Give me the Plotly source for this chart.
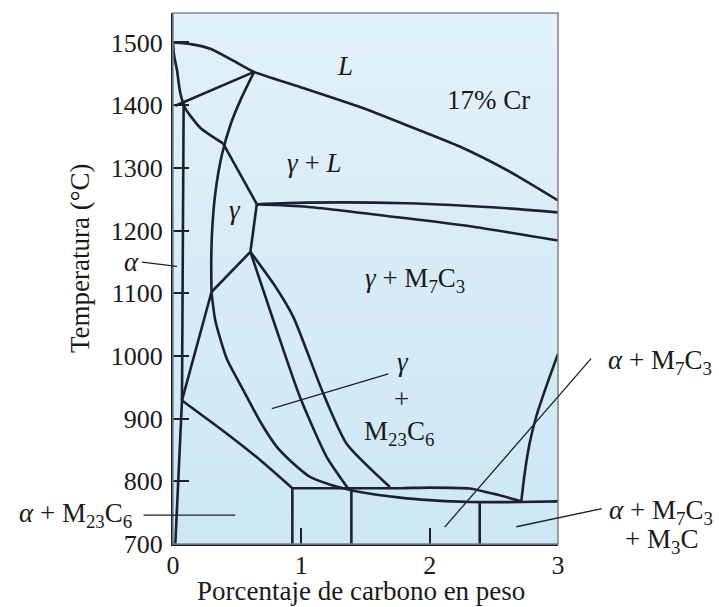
import plotly.graph_objects as go

# ---------------- data (wt% C, temperature in °C) ----------------
liquidus_x = [0.0, 0.15, 0.29, 0.47, 0.632, 0.99, 1.457, 1.846, 2.234, 2.623, 3.0]
liquidus_t = [1500, 1497, 1490, 1471, 1453, 1429, 1397, 1366, 1334, 1294, 1248]

delta_arc_x = [0.0, 0.008, 0.031, 0.057, 0.096, 0.212, 0.39]
delta_arc_t = [1500, 1480, 1456, 1419, 1395, 1364, 1339]

solidus_x = [0.39, 0.653]
solidus_t = [1339, 1242]

perit_x = [0.018, 0.632]
perit_t = [1399, 1453]

gamma_left_x = [0.632, 0.53, 0.45, 0.38, 0.33, 0.305, 0.298, 0.30]
gamma_left_t = [1453, 1410, 1370, 1320, 1260, 1200, 1150, 1102]

gamma_right_x = [0.653, 0.603, 0.30]
gamma_right_t = [1242, 1166, 1102]

peak_left_x = [0.30, 0.07]
peak_left_t = [1102, 929]

alpha_bound_x = [0.083, 0.07, 0.018]
alpha_bound_t = [1405, 929, 700]

eut_low_x = [0.07, 0.42, 0.679, 0.93]
eut_low_t = [929, 876, 834, 789]

curve_i_x = [0.30, 0.329, 0.42, 0.549, 0.68, 0.809, 0.94, 1.068, 1.22, 1.366, 1.457, 1.77, 2.0, 2.31, 2.714, 3.0]
curve_i_t = [1102, 1057, 995, 945, 895, 855, 828, 807, 795, 787, 783, 774, 770, 767, 767, 768]

mid_line_x = [0.603, 0.808, 0.99, 1.197, 1.366]
mid_line_t = [1166, 1041, 934, 839, 788]

right_line_x = [0.603, 0.80, 0.938, 1.171, 1.353, 1.69]
right_line_t = [1166, 1110, 1062, 940, 860, 791]

upper_h_x = [0.93, 1.37, 1.77, 2.0, 2.31, 2.5, 2.714]
upper_h_t = [789, 789, 789, 790, 788.5, 780, 768]

right_curve_x = [3.0, 2.908, 2.83, 2.778, 2.74, 2.714]
right_curve_t = [1003, 951, 903, 860, 812, 768]

plateau_up_x = [0.653, 1.04, 1.82, 2.6, 3.0]
plateau_up_t = [1242, 1244.5, 1243.5, 1235.5, 1229]

plateau_low_x = [0.653, 1.04, 1.82, 2.34, 3.0]
plateau_low_t = [1242, 1238, 1219.5, 1206, 1184]

vert_x = [0.93, 1.39, 2.39]
vert_top = [789, 786, 767]
vert_bottom = [700, 700, 700]

x_ticks = [0, 1, 2, 3]
y_ticks = [700, 800, 900, 1000, 1100, 1200, 1300, 1400, 1500]

X_RANGE = [0, 3]
Y_RANGE = [700, 1547]

# region labels inside the plot: (text, x, T)
region_labels = [
    ("<i>L</i>", 1.34, 1462),
    ("17% Cr", 2.457, 1408),
    ("<i>γ</i> + <i>L</i>", 1.10, 1307),
    ("<i>γ</i>", 0.484, 1233),
    ("<i>γ</i> + M<sub>7</sub>C<sub>3</sub>", 1.885, 1121),
    ("<i>γ</i>", 1.79, 990),
    ("+", 1.78, 932),
    ("M<sub>23</sub>C<sub>6</sub>", 1.76, 877),
]

# labels outside the plot area (text, x, T) in data units
outside_labels = [
    ("<i>α</i>", -0.327, 1150),
    ("<i>α</i> + M<sub>23</sub>C<sub>6</sub>", -0.76, 746),
    ("<i>α</i> + M<sub>7</sub>C<sub>3</sub>", 3.797, 991),
    ("<i>α</i> + M<sub>7</sub>C<sub>3</sub>", 3.80, 751),
    ("+ M<sub>3</sub>C", 3.81, 705),
]

# leader lines: (x_start, T_start, x_end, T_end)
leaders = [
    (-0.254, 1150, 0.031, 1143),
    (-0.241, 746, 0.485, 746),
    (1.69, 972, 0.77, 916),
    (3.268, 998, 2.117, 727),
    (3.354, 757, 2.675, 727.5),
]

LINE = "#1b2130"
TXT = "#1a1a1a"
FONT = "Liberation Serif"

fig = go.Figure()

# soft vertical background gradient of the diagram area
fig.add_trace(go.Heatmap(x=X_RANGE, y=Y_RANGE, z=[[0, 0], [1, 1]], zsmooth="best",
                         colorscale=[[0, "#cde7f5"], [1, "#e2f1f9"]],
                         showscale=False, hoverinfo="skip"))

curves = [
    (liquidus_x, liquidus_t), (delta_arc_x, delta_arc_t), (solidus_x, solidus_t),
    (perit_x, perit_t), (gamma_left_x, gamma_left_t), (gamma_right_x, gamma_right_t),
    (peak_left_x, peak_left_t), (alpha_bound_x, alpha_bound_t), (eut_low_x, eut_low_t),
    (curve_i_x, curve_i_t), (mid_line_x, mid_line_t), (right_line_x, right_line_t),
    (upper_h_x, upper_h_t), (right_curve_x, right_curve_t),
    (plateau_up_x, plateau_up_t), (plateau_low_x, plateau_low_t),
]
for cx, ct in curves:
    shape = "spline" if len(cx) > 3 else "linear"
    fig.add_trace(go.Scatter(x=cx, y=ct, mode="lines",
                             line=dict(color=LINE, width=2.6, shape=shape, smoothing=0.6),
                             hoverinfo="skip", showlegend=False))

for vx, vt, vb in zip(vert_x, vert_top, vert_bottom):
    fig.add_trace(go.Scatter(x=[vx, vx], y=[vt, vb], mode="lines",
                             line=dict(color=LINE, width=2.6),
                             hoverinfo="skip", showlegend=False))

for txt, lx, lt in region_labels:
    fig.add_annotation(x=lx, y=lt, xref="x", yref="y", text=txt, showarrow=False,
                       font=dict(family=FONT, size=27, color=TXT))

for txt, lx, lt in outside_labels:
    px = (lx - X_RANGE[0]) / (X_RANGE[1] - X_RANGE[0])
    py = (lt - Y_RANGE[0]) / (Y_RANGE[1] - Y_RANGE[0])
    fig.add_annotation(x=px, y=py, xref="paper", yref="paper", text=txt,
                       showarrow=False, xanchor="center", yanchor="middle",
                       font=dict(family=FONT, size=27, color=TXT))

for x0, t0, x1, t1 in leaders:
    fig.add_annotation(x=x1, y=t1, ax=x0, ay=t0, xref="x", yref="y",
                       axref="x", ayref="y", text="", showarrow=True,
                       arrowhead=0, arrowwidth=1.3, arrowcolor=LINE, standoff=0,
                       startstandoff=0)

# axis titles
fig.add_annotation(x=0.488, y=-0.088, xref="paper", yref="paper",
                   xanchor="center", yanchor="middle",
                   text="Porcentaje de carbono en peso", showarrow=False,
                   font=dict(family=FONT, size=27, color=TXT))
fig.add_annotation(x=-0.2416, y=0.5386, xref="paper", yref="paper",
                   xanchor="center", yanchor="middle",
                   text="Temperatura (°C)", textangle=-90, showarrow=False,
                   font=dict(family=FONT, size=27, color=TXT))

# frame (top and right border)
fig.add_shape(type="rect", xref="paper", yref="paper", x0=0, y0=0, x1=1, y1=1,
              line=dict(color="#7d858d", width=1.5), layer="above")

fig.update_xaxes(range=X_RANGE, tickvals=x_ticks, ticktext=[str(v) for v in x_ticks],
                 ticks="inside", ticklen=16, tickwidth=1.5, tickcolor=LINE,
                 showline=True, linecolor=LINE, linewidth=2.2, showgrid=False,
                 zeroline=False, ticklabelstandoff=-3,
                 tickfont=dict(family=FONT, size=26, color=TXT))
fig.update_yaxes(range=Y_RANGE, tickvals=y_ticks, ticktext=[str(v) for v in y_ticks],
                 ticks="inside", ticklen=16, tickwidth=1.5, tickcolor=LINE,
                 showline=True, linecolor=LINE, linewidth=2.2, showgrid=False,
                 zeroline=False, ticklabelstandoff=3,
                 tickfont=dict(family=FONT, size=26, color=TXT))

fig.update_layout(width=719, height=607,
                  margin=dict(l=173, r=161, t=13, b=63),
                  plot_bgcolor="#d5ebf7", paper_bgcolor="white",
                  showlegend=False)

fig.write_html("out.html")
